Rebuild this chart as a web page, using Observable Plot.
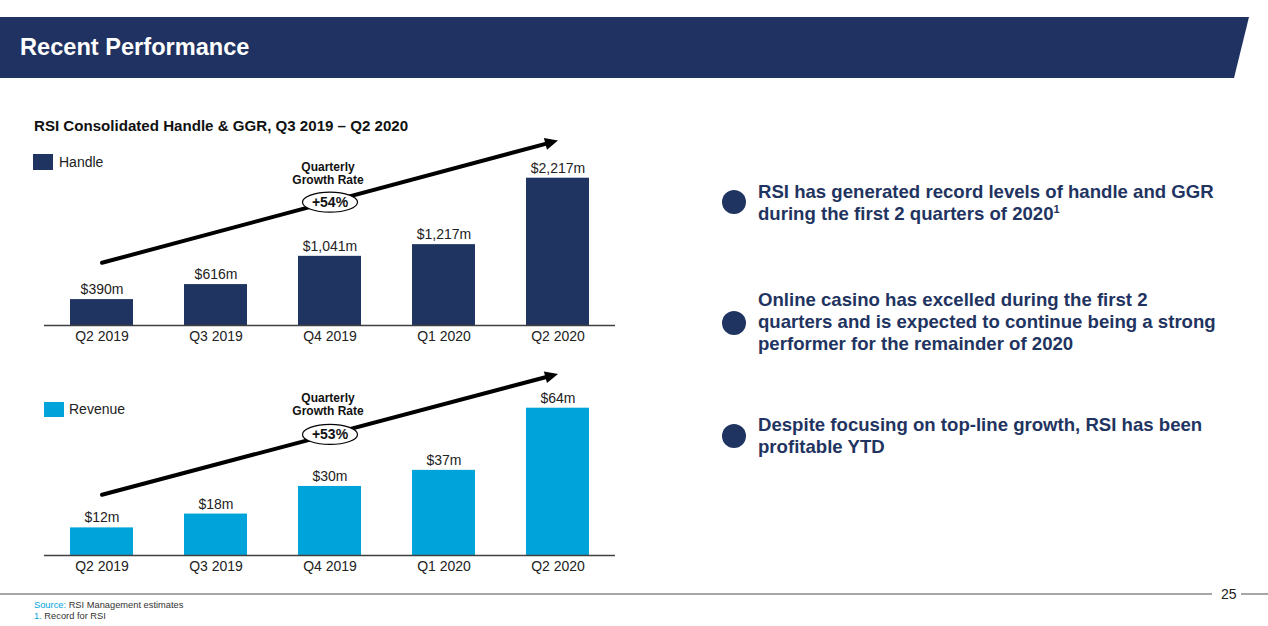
<!DOCTYPE html>
<html>
<head>
<meta charset="utf-8">
<script src="https://cdn.jsdelivr.net/npm/d3@7"></script>
<script src="https://cdn.jsdelivr.net/npm/@observablehq/plot@0.6"></script>
<style>
  html, body { margin: 0; padding: 0; background: #fff; }
  body { width: 1268px; height: 626px; position: relative; overflow: hidden;
         font-family: Arial, "Liberation Sans", sans-serif; }
  .abs { position: absolute; }
  #band { left: 0; top: 17px; width: 1252px; height: 61px; background: #1f3261;
          clip-path: polygon(0 0, 1249px 0, 1234px 61px, 0 61px); }
  #title { left: 20px; top: 36px; color: #fff; font-weight: bold; font-size: 23.6px; line-height: 1; white-space: nowrap; }
  #ctitle { left: 34px; top: 118px; color: #111; font-weight: bold; font-size: 15.1px; line-height: 1; white-space: nowrap; }
  .leg { font-size: 14px; color: #222; line-height: 1; white-space: nowrap; }
  .sw { display: block; }
  .bul { width: 24px; height: 24px; border-radius: 50%; background: #1f3461; }
  .btxt { left: 758px; font-size: 18.6px; font-weight: bold; color: #1f3461; line-height: 22px; white-space: nowrap; }
  .sup { font-size: 11px; position: relative; top: -7px; }
  .foot { font-size: 9.3px; color: #333; line-height: 1; white-space: nowrap; }
  .cy { color: #00a3da; }
</style>
</head>
<body>
<div id="band" class="abs"></div>
<div id="title" class="abs">Recent Performance</div>
<div id="ctitle" class="abs">RSI Consolidated Handle &amp; GGR, Q3 2019 – Q2 2020</div>

<div id="chart1" class="abs" style="left:0;top:130px;"></div>
<div id="chart2" class="abs" style="left:0;top:360px;"></div>

<div class="abs sw" style="left:33px;top:154px;width:20px;height:16px;background:#1f3461"></div>
<div class="abs leg" style="left:59px;top:155px;">Handle</div>
<div class="abs sw" style="left:44px;top:402px;width:20px;height:15px;background:#00a3da"></div>
<div class="abs leg" style="left:69px;top:402px;">Revenue</div>

<div class="abs bul" style="left:722px;top:190px;"></div>
<div class="abs btxt" style="top:181px;">RSI has generated record levels of handle and GGR<br>during the first 2 quarters of 2020<span class="sup">1</span></div>
<div class="abs bul" style="left:722px;top:311px;"></div>
<div class="abs btxt" style="top:289px;">Online casino has excelled during the first 2<br>quarters and is expected to continue being a strong<br>performer for the remainder of 2020</div>
<div class="abs bul" style="left:722px;top:424px;"></div>
<div class="abs btxt" style="top:414px;">Despite focusing on top-line growth, RSI has been<br>profitable YTD</div>

<div class="abs" style="left:0;top:593px;width:1212px;height:2px;background:#a6a6a6"></div>
<div class="abs" style="left:1221px;top:587px;font-size:14px;line-height:1;color:#222">25</div>
<div class="abs" style="left:1241px;top:593px;width:27px;height:2px;background:#a6a6a6"></div>
<div class="abs foot" style="left:34px;top:601px;"><span class="cy">Source:</span> RSI Management estimates</div>
<div class="abs foot" style="left:34px;top:612px;"><span class="cy">1.</span> Record for RSI</div>

<script>
// ---- data ----
const quarters = ["Q2 2019", "Q3 2019", "Q4 2019", "Q1 2020", "Q2 2020"];
const handle = [390, 616, 1041, 1217, 2217];      // $m
const revenue = [12, 18, 30, 37, 64];             // $m
const growthLabels = ["+54%", "+53%"];
// annotation positions in data units (start, end of trend arrow)
const handleArrow = [944, 2784];
const revenueArrow = [26.4, 78.9];
const handleNoteY = [2292, 1856];   // "Quarterly Growth Rate" text, badge
const revenueNoteY = [65.8, 52.6];

const FONT = 'Arial, "Liberation Sans", sans-serif';
const fmt = v => "$" + d3.format(",")(v) + "m";

// ellipse badge symbol
const ellipse = {
  draw(ctx) {
    const rx = 27.5, ry = 10, k = 0.5523;
    ctx.moveTo(rx, 0);
    ctx.bezierCurveTo(rx, ry * k, rx * k, ry, 0, ry);
    ctx.bezierCurveTo(-rx * k, ry, -rx, ry * k, -rx, 0);
    ctx.bezierCurveTo(-rx, -ry * k, -rx * k, -ry, 0, -ry);
    ctx.bezierCurveTo(rx * k, -ry, rx, -ry * k, rx, 0);
    ctx.closePath();
  }
};
// solid arrowhead with its tip at the origin, pointing up
const head = {
  draw(ctx) {
    ctx.moveTo(0, 0);
    ctx.lineTo(-6, 13);
    ctx.lineTo(6, 13);
    ctx.closePath();
  }
};

function makeChart(values, color, arrowY, noteY, badge) {
  const data = quarters.map((q, i) => ({q, v: values[i]}));
  const first = quarters[0], last = quarters[quarters.length - 1], mid = quarters[2];
  return Plot.plot({
    width: 640, height: 220,
    marginLeft: 44, marginRight: 25, marginTop: 47.7, marginBottom: 25,
    style: {fontFamily: FONT, fontSize: "14px", color: "#222", background: "transparent", overflow: "visible"},
    x: {domain: quarters, paddingInner: 0.445, paddingOuter: 0.222, tickSize: 0, tickPadding: 6, label: null},
    y: {domain: [0, d3.max(values)], axis: null},
    marks: [
      Plot.barY(data, {x: "q", y: "v", fill: color}),
      Plot.ruleY([0], {stroke: "#404040", strokeWidth: 1.5}),
      Plot.text(data, {x: "q", y: "v", text: d => fmt(d.v), dy: -10, fontSize: 14, fill: "#222"}),
      Plot.arrow([0], {x1: () => first, y1: () => arrowY[0], x2: () => last, y2: () => arrowY[1],
                       stroke: "#000", strokeWidth: 4, headLength: 0, headAngle: 0, insetEnd: 10}),
      Plot.dot([0], {x: () => last, y: () => arrowY[1], symbol: head, r: 5, fill: "#000", rotate: 75}),
      Plot.text([0], {x: () => mid, y: () => noteY[0], text: () => "Quarterly\nGrowth Rate",
                      fontWeight: "bold", fontSize: 12, lineHeight: 1.1, dx: -2, fill: "#111"}),
      Plot.dot([0], {x: () => mid, y: () => noteY[1], symbol: ellipse, r: 5, fill: "#fff", stroke: "#000", strokeWidth: 1.2}),
      Plot.text([0], {x: () => mid, y: () => noteY[1], text: () => badge, fontWeight: "bold", fontSize: 14, fill: "#111"})
    ]
  });
}

document.getElementById("chart1").appendChild(makeChart(handle, "#1f3461", handleArrow, handleNoteY, growthLabels[0]));
document.getElementById("chart2").appendChild(makeChart(revenue, "#00a3da", revenueArrow, revenueNoteY, growthLabels[1]));
</script>
</body>
</html>
